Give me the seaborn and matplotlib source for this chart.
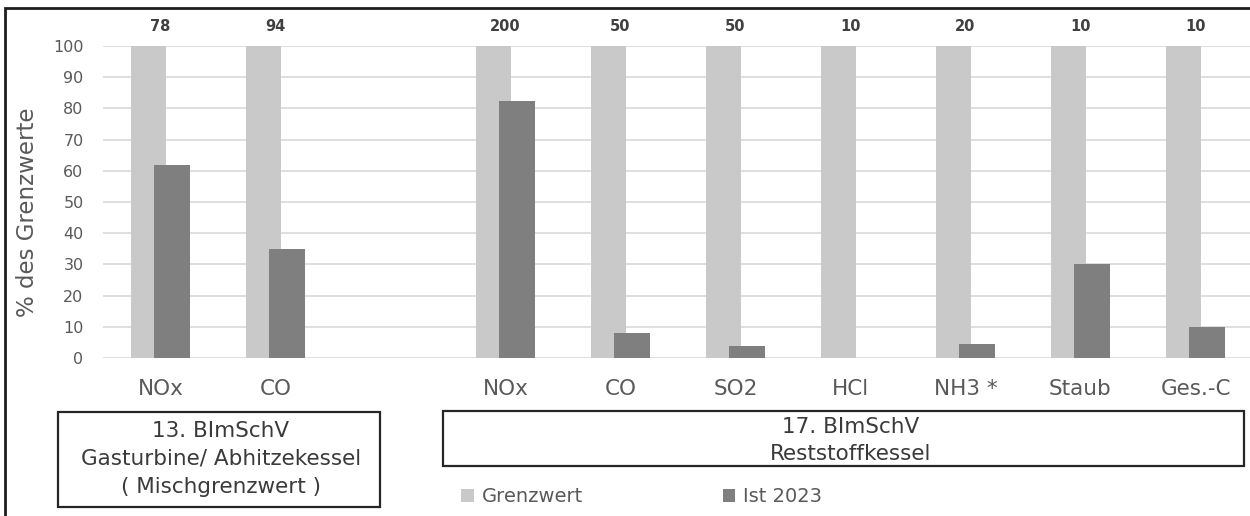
import numpy as np
import pandas as pd
import matplotlib
matplotlib.use("Agg")
import matplotlib.pyplot as plt
import seaborn as sns
from matplotlib.patches import Rectangle, Patch

# ---------------- data ----------------
slot_labels = ["NOx", "CO", "", "NOx", "CO", "SO2", "HCl", "NH3 *", "Staub", "Ges.-C"]
slots = [0, 1, 3, 4, 5, 6, 7, 8, 9]
grenzwert_pct = [100, 100, 100, 100, 100, 100, 100, 100, 100]
ist_2023_pct = [62, 35, 82.5, 8, 4, 0, 4.5, 30, 10]
limit_values = ["78", "94", "200", "50", "50", "10", "20", "10", "10"]
group1_text = "13. BImSchV\nGasturbine/ Abhitzekessel\n( Mischgrenzwert )"
group2_text = "17. BImSchV\nReststoffkessel"
y_label = "% des Grenzwerte"
legend_labels = ["Grenzwert", "Ist 2023"]

# ---------------- style ----------------
sns.set_style("white")
plt.rcParams["font.family"] = ["DejaVu Sans"]

C_LIGHT = "#c9c9c9"
C_DARK = "#7f7f7f"
C_GRID = "#dcdcdc"
C_TEXT = "#595959"

W, H = 1250, 516
fig = plt.figure(figsize=(W / 100, H / 100), dpi=100)

def fx(px):
    return px / W

def fy(py):
    return 1 - py / H

# axes: x from 103 to 1253 px, y from 46 to 358 px
ax = fig.add_axes([fx(103), fy(358), 1150 / W, 312 / H])

df = pd.DataFrame({"slot": slots, "Grenzwert": grenzwert_pct, "Ist": ist_2023_pct})

sns.barplot(x=df["slot"] - 0.104, y=df["Grenzwert"], native_scale=True, width=0.305,
            color=C_LIGHT, linewidth=0, errorbar=None, ax=ax, zorder=2)
sns.barplot(x=df["slot"] + 0.10, y=df["Ist"], native_scale=True, width=0.313,
            color=C_DARK, linewidth=0, errorbar=None, ax=ax, zorder=3)
for p in ax.patches:
    p.set_alpha(1)

ax.set_xlim(-0.5, 9.5)
ax.set_ylim(0, 100)
ax.set_yticks(range(0, 101, 10))
ax.set_xticks(np.arange(len(slot_labels)))
ax.set_xticklabels(slot_labels)
ax.tick_params(axis="x", length=0, pad=15, labelsize=15.5, labelcolor=C_TEXT)
ax.tick_params(axis="y", length=0, pad=14, labelsize=11.5, labelcolor=C_TEXT)
ax.yaxis.grid(True, color=C_GRID, linewidth=1.3, zorder=0)
ax.xaxis.grid(False)
ax.set_axisbelow(True)
for s in ax.spines.values():
    s.set_visible(False)
ax.set_xlabel("")
ax.set_ylabel(y_label, fontsize=16.5, color=C_TEXT)
ax.yaxis.set_label_coords((39 - 103) / 1150, 0.468)

# limit values above the bars
for s, lab in zip(slots, limit_values):
    ax.text(s, 106.4, lab, ha="center", va="center", fontsize=10.5, fontweight="bold",
            color="#404040", clip_on=False)

# group boxes
def box(x0, y0, x1, y1, text, tx, ty, ls):
    fig.patches.append(Rectangle((fx(x0), fy(y1)), fx(x1) - fx(x0), fy(y0) - fy(y1),
                                 transform=fig.transFigure, fill=False,
                                 edgecolor="#262626", linewidth=1.6))
    fig.text(fx(tx), fy(ty), text, ha="center", va="center", fontsize=15.5,
             color="#3a3a3a", linespacing=ls, multialignment="center")

box(58, 412, 380, 507, group1_text, 221, 459, 1.5)
box(443, 411, 1244, 466, group2_text, 851, 440.5, 1.45)

# outer frame
fig.patches.append(Rectangle((fx(5), fy(540)), fx(1270) - fx(5), fy(8) - fy(540),
                             transform=fig.transFigure, fill=False,
                             edgecolor="#1e1e1e", linewidth=2.0))

# legend
handles = [Patch(facecolor=C_LIGHT, edgecolor="none"), Patch(facecolor=C_DARK, edgecolor="none")]
fig.legend(handles, legend_labels, loc="center left", bbox_to_anchor=(fx(461), fy(497)),
           ncol=2, frameon=False, fontsize=14, labelcolor=C_TEXT,
           handlelength=0.65, handleheight=0.65, handletextpad=0.4, columnspacing=7.2,
           borderaxespad=0, borderpad=0)

fig.savefig("out.png", dpi=100)
